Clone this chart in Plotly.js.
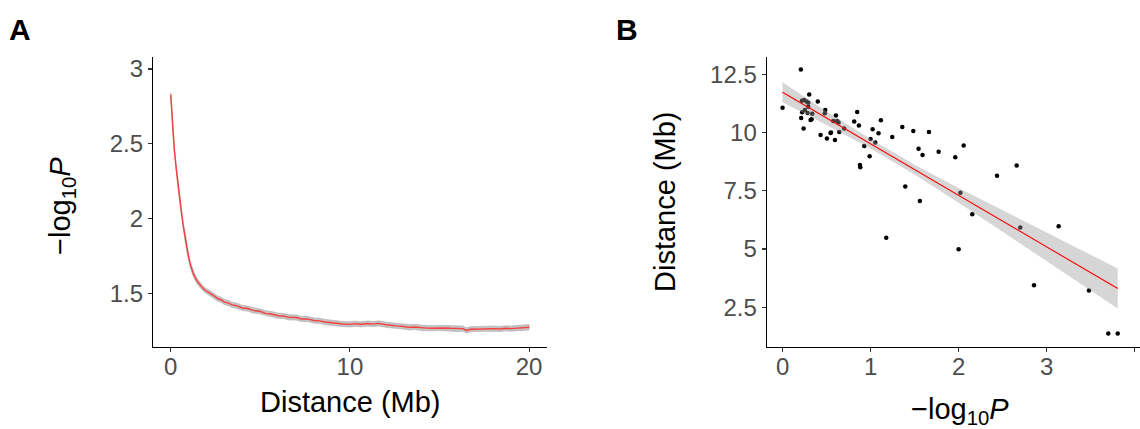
<!DOCTYPE html>
<html>
<head>
<meta charset="utf-8">
<script src="https://cdn.plot.ly/plotly-3.0.1.min.js"></script>
<style>html,body{margin:0;padding:0;background:#fff;}#chart{width:1140px;height:429px;}</style>
</head>
<body>
<div id="chart"></div>
<script>
// ---------- Panel A: -log10 P vs distance (Mb) ----------
var distA = [0, 0.1, 0.15, 0.2, 0.3, 0.4, 0.5, 0.6, 0.7, 0.8, 0.9, 1.0, 1.1, 1.2, 1.3, 1.45, 1.6, 1.75, 1.9, 2.0, 2.2, 2.4, 2.6, 2.8, 3.0, 3.2, 3.4, 3.7, 4.0, 4.3, 4.6, 5.0, 5.3, 5.6, 6.0, 6.3, 6.6, 7.0, 7.3, 7.6, 8.0, 8.3, 8.6, 9.0, 9.3, 9.6, 10.0, 10.3, 10.6, 11.0, 11.3, 11.6, 12.0, 12.3, 12.6, 13.0, 13.3, 13.6, 14.0, 14.3, 14.6, 15.0, 15.3, 15.6, 16.0, 16.3, 16.5, 16.8, 17.0, 17.4, 17.7, 18.0, 18.4, 18.7, 19.0, 19.3, 19.6, 20.0];
var logpA = [2.83, 2.63, 2.53, 2.46, 2.34, 2.23, 2.13, 2.04, 1.95, 1.87, 1.80, 1.74, 1.69, 1.65, 1.62, 1.585, 1.56, 1.54, 1.522, 1.515, 1.496, 1.484, 1.466, 1.457, 1.441, 1.436, 1.424, 1.416, 1.402, 1.398, 1.386, 1.378, 1.366, 1.362, 1.350, 1.348, 1.339, 1.338, 1.328, 1.329, 1.318, 1.316, 1.308, 1.301, 1.296, 1.295, 1.292, 1.297, 1.293, 1.298, 1.294, 1.299, 1.290, 1.284, 1.282, 1.278, 1.272, 1.275, 1.268, 1.267, 1.266, 1.269, 1.268, 1.266, 1.262, 1.264, 1.252, 1.261, 1.260, 1.263, 1.262, 1.264, 1.261, 1.266, 1.264, 1.266, 1.267, 1.273];
var seA = [0.014, 0.024, 0.024, 0.024, 0.024, 0.024, 0.024, 0.024, 0.024, 0.023, 0.022, 0.021, 0.020, 0.019, 0.018, 0.018, 0.017, 0.017, 0.017, 0.017, 0.017, 0.017, 0.017, 0.017, 0.017, 0.017, 0.017, 0.017, 0.017, 0.017, 0.017, 0.017, 0.017, 0.017, 0.017, 0.017, 0.017, 0.017, 0.017, 0.017, 0.017, 0.017, 0.017, 0.017, 0.017, 0.017, 0.017, 0.017, 0.017, 0.017, 0.017, 0.017, 0.017, 0.017, 0.017, 0.017, 0.017, 0.017, 0.017, 0.017, 0.017, 0.017, 0.017, 0.017, 0.017, 0.017, 0.017, 0.017, 0.017, 0.017, 0.017, 0.017, 0.017, 0.017, 0.017, 0.017, 0.017, 0.018];

// ---------- Panel B: distance (Mb) vs -log10 P ----------
var logpB = [0.00, 0.208, 0.303, 0.40, 0.212, 0.239, 0.223, 0.318, 0.33, 0.337, 0.22, 0.246, 0.273, 0.292, 0.284, 0.254, 0.292, 0.432, 0.504, 0.545, 0.55, 0.595, 0.606, 0.644, 0.70, 0.485, 0.48, 0.576, 0.62, 0.636, 0.814, 0.848, 0.867, 0.928, 0.879, 0.883, 0.989, 1.00, 1.023, 1.053, 1.09, 1.117, 1.178, 1.246, 1.36, 1.394, 1.485, 1.545, 1.56, 1.59, 1.663, 1.773, 1.962, 2.00, 2.02, 2.057, 2.155, 2.436, 2.659, 2.70, 2.856, 3.136, 3.48, 3.70, 3.807];
var distB = [11.07, 12.71, 11.64, 11.34, 10.63, 10.17, 10.87, 10.54, 10.57, 10.81, 11.37, 11.40, 11.34, 11.28, 10.84, 10.97, 11.11, 9.90, 9.75, 9.98, 10.00, 9.68, 10.73, 10.03, 10.18, 10.97, 10.83, 10.50, 10.50, 10.43, 10.48, 10.88, 10.30, 9.42, 8.61, 8.51, 8.98, 9.72, 10.14, 9.57, 9.97, 10.53, 5.48, 9.81, 10.24, 7.68, 10.07, 9.30, 7.06, 9.04, 10.03, 9.18, 8.94, 4.99, 7.41, 9.44, 6.49, 8.14, 8.59, 5.92, 3.44, 5.98, 3.22, 1.37, 1.37];

// linear fit and its confidence band
var fitX  = [0, 0.5, 1.0, 1.5, 2.0, 2.5, 3.0, 3.5, 3.807];
var fitY  = [11.73, 10.62, 9.52, 8.41, 7.30, 6.20, 5.09, 3.98, 3.30];
var fitSE = [0.43, 0.29, 0.20, 0.21, 0.32, 0.46, 0.61, 0.76, 0.86];

// tick labels
var tickAx = [0, 10, 20], tickAxText = ['0', '10', '20'];
var tickAy = [1.5, 2, 2.5, 3], tickAyText = ['1.5', '2', '2.5', '3'];
var tickBx = [0, 1, 2, 3, 4], tickBxText = ['0', '1', '2', '3', '4'];
var tickBy = [2.5, 5, 7.5, 10, 12.5], tickByText = ['2.5', '5', '7.5', '10', '12.5'];

// ---------- build traces ----------
function band(xs, ys, se) {
  var bx = [], by = [];
  for (var i = 0; i < xs.length; i++) { bx.push(xs[i]); by.push(ys[i] + se[i]); }
  for (var j = xs.length - 1; j >= 0; j--) { bx.push(xs[j]); by.push(ys[j] - se[j]); }
  return {x: bx, y: by};
}
var bA = band(distA, logpA, seA);
var bB = band(fitX, fitY, fitSE);

var traces = [
  {x: bA.x, y: bA.y, xaxis: 'x', yaxis: 'y', type: 'scatter', mode: 'lines', fill: 'toself',
   fillcolor: 'rgba(150,150,150,0.55)', line: {width: 0.8, color: 'rgba(170,170,170,0.8)'}, hoverinfo: 'skip'},
  {x: distA, y: logpA, xaxis: 'x', yaxis: 'y', type: 'scatter', mode: 'lines',
   line: {color: 'rgba(255,40,40,0.85)', width: 1.4}},
  {x: logpB, y: distB, xaxis: 'x2', yaxis: 'y2', type: 'scatter', mode: 'markers',
   marker: {color: '#000000', size: 4.5}},
  {x: bB.x, y: bB.y, xaxis: 'x2', yaxis: 'y2', type: 'scatter', mode: 'lines', fill: 'toself',
   fillcolor: 'rgba(153,153,153,0.4)', line: {width: 0}, hoverinfo: 'skip'},
  {x: fitX, y: fitY, xaxis: 'x2', yaxis: 'y2', type: 'scatter', mode: 'lines',
   line: {color: '#FF0000', width: 1.1}}
];

var W = 1140, H = 429;
function px(v) { return v / W; }
function py(v) { return 1 - v / H; }

var FONT = 'Liberation Sans, Arial, Helvetica, sans-serif';
var tickFont = {family: FONT, size: 24, color: '#4D4D4D'};
function axis(extra) {
  var a = {showline: true, linecolor: '#000000', linewidth: 1.1, showgrid: false, zeroline: false,
           ticks: 'outside', ticklen: 4, tickwidth: 1.1, tickcolor: '#333333', tickfont: tickFont,
           tickmode: 'array', fixedrange: true};
  for (var k in extra) a[k] = extra[k];
  return a;
}

var titleFont = {family: FONT, size: 29, color: '#000000'};
var layout = {
  width: W, height: H,
  margin: {l: 0, r: 0, t: 0, b: 0},
  paper_bgcolor: '#FFFFFF', plot_bgcolor: '#FFFFFF',
  showlegend: false,
  xaxis: axis({domain: [px(153), px(547)], range: [-0.99, 21.0], tickvals: tickAx, ticktext: tickAxText, anchor: 'y', ticklabelstandoff: -6}),
  yaxis: axis({domain: [py(347.3), py(57)], range: [1.139, 3.08], tickvals: tickAy, ticktext: tickAyText, anchor: 'x'}),
  xaxis2: axis({domain: [px(766.7), 1], range: [-0.18, 4.06], tickvals: tickBx, ticktext: tickBxText, anchor: 'y2', ticklabelstandoff: -6}),
  yaxis2: axis({domain: [py(346.7), py(56.7)], range: [0.80, 13.26], tickvals: tickBy, ticktext: tickByText, anchor: 'x2'}),
  annotations: [
    {text: '<b>A</b>', xref: 'paper', yref: 'paper', x: px(7), y: py(29), xanchor: 'left', yanchor: 'middle',
     showarrow: false, font: {family: FONT, size: 30, color: '#000'}},
    {text: '<b>B</b>', xref: 'paper', yref: 'paper', x: px(614), y: py(29), xanchor: 'left', yanchor: 'middle',
     showarrow: false, font: {family: FONT, size: 30, color: '#000'}},
    {text: 'Distance (Mb)', xref: 'paper', yref: 'paper', x: px(350), y: py(402), xanchor: 'center', yanchor: 'middle',
     showarrow: false, font: titleFont},
    {text: '\u2212log<sub>10</sub><i>P</i>', xref: 'paper', yref: 'paper', x: px(62), y: py(206), xanchor: 'center', yanchor: 'middle',
     textangle: -90, showarrow: false, font: titleFont},
    {text: 'Distance (Mb)', xref: 'paper', yref: 'paper', x: px(665), y: py(202), xanchor: 'center', yanchor: 'middle',
     textangle: -90, showarrow: false, font: titleFont},
    {text: '\u2212log<sub>10</sub><i>P</i>', xref: 'paper', yref: 'paper', x: px(960), y: py(411), xanchor: 'center', yanchor: 'middle',
     showarrow: false, font: titleFont}
  ]
};

Plotly.newPlot('chart', traces, layout, {displayModeBar: false, staticPlot: true});
</script>
</body>
</html>
